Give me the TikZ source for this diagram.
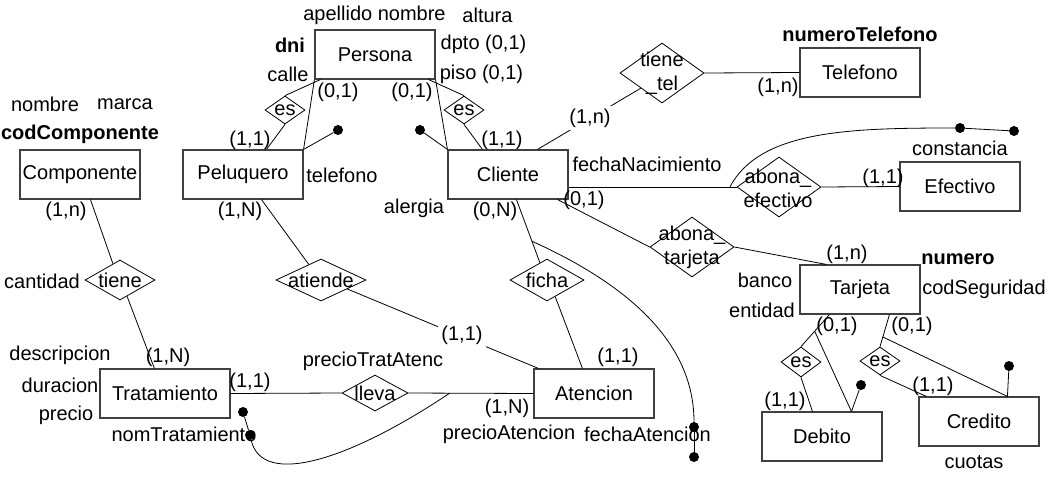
\documentclass[tikz,border=0pt]{standalone}
\usepackage{fontspec}
\setmainfont{Liberation Sans}
\usetikzlibrary{shapes.geometric,calc}
\begin{document}
\begin{tikzpicture}[x=1pt,y=-1pt,
  font=\fontsize{20}{24}\selectfont,
  ent/.style={draw=black!75,fill=white,line width=1.1pt,minimum width=120pt,minimum height=49pt,inner sep=0pt},
  rel/.style={draw,fill=white,diamond,line width=0.8pt,inner sep=0pt},
  conn/.style={line width=0.8pt},
  txt/.style={inner sep=0pt},
  cardw/.style={fill=white,inner sep=3pt},
  dotn/.style={circle,fill,inner sep=0pt,minimum size=10pt},
  dlab/.style={align=center,inner sep=0pt}]
\useasboundingbox (0,0) rectangle (1050,477);

% entities
\node[ent] (per) at (375,54.5) {Persona};
\node[ent] (tel) at (860,72.5) {Telefono};
\node[ent] (com) at (80,174.5) {Componente};
\node[ent] (pel) at (243,174.5) {Peluquero};
\node[ent] (cli) at (508,174.5) {Cliente};
\node[ent] (efe) at (960,186.5) {Efectivo};
\node[ent] (tar) at (860,289.5) {Tarjeta};
\node[ent,minimum width=130pt] (tra) at (165,393.5) {Tratamiento};
\node[ent] (ate) at (594,393.5) {Atencion};
\node[ent] (deb) at (822,436.5) {Debito};
\node[ent] (cre) at (979,421.5) {Credito};

% relationships
\node[rel,minimum width=84pt,minimum height=60pt] (tt) at (662,73) {};
\node[rel,minimum width=84pt,minimum height=60pt] (abe) at (779,187) {};
\node[rel,minimum width=84pt,minimum height=60pt] (abt) at (692,247) {};
\node[rel,minimum width=70pt,minimum height=40pt] (tie) at (120,280) {};
\node[rel,minimum width=90pt,minimum height=42pt] (atd) at (321,280) {};
\node[rel,minimum width=74pt,minimum height=42pt] (fic) at (547,280) {};
\node[rel,minimum width=66pt,minimum height=36pt] (lle) at (375,393) {};
\node[rel,minimum width=40pt,minimum height=28pt] (es1) at (285,110) {};
\node[rel,minimum width=40pt,minimum height=28pt] (es2) at (464,110) {};
\node[rel,minimum width=40pt,minimum height=30pt] (es3) at (801,362) {};
\node[rel,minimum width=40pt,minimum height=28pt] (es4) at (880,361) {};

% attributes
\node[txt] (a1) at (374.5,15) {apellido nombre};
\node[txt] (a2) at (487.5,15) {altura};
\node[txt,font=\fontsize{20}{24}\selectfont\bfseries] (a3) at (290,45) {dni};
\node[txt] (a4) at (288,74) {calle};
\node[txt] (a5) at (483.5,44) {dpto (0,1)};
\node[txt] (a6) at (481.5,74) {piso (0,1)};
\node[txt] (a7) at (342,175) {telefono};
\node[txt] (a8) at (414,208) {alergia};
\node[txt] (a9) at (45,104) {nombre};
\node[txt] (a10) at (125,104) {marca};
\node[txt,font=\fontsize{20}{24}\selectfont\bfseries] (a11) at (80,134) {codComponente};
\node[txt,font=\fontsize{20}{24}\selectfont\bfseries] (a12) at (860,34) {numeroTelefono};
\node[txt] (a13) at (647,164) {fechaNacimiento};
\node[txt] (a14) at (960,148) {constancia};
\node[txt,font=\fontsize{20}{24}\selectfont\bfseries] (a15) at (958,259) {numero};
\node[txt] (a16) at (984,289) {codSeguridad};
\node[txt] (a17) at (765,280) {banco};
\node[txt] (a18) at (762,310) {entidad};
\node[txt] (a19) at (974,462) {cuotas};
\node[txt] (a20) at (42,281) {cantidad};
\node[txt] (a21) at (60,355) {descripcion};
\node[txt] (a22) at (60,385) {duracion};
\node[txt] (a23) at (66,415) {precio};
\node[txt] (a24) at (184,434) {nomTratamiento};
\node[txt] (a25) at (373,361) {precioTratAtenc};
\node[txt] (a26) at (509,434) {precioAtencion};
\node[txt] (a27) at (647.5,434) {fechaAtencion};

% cardinalities (plain)
\node[txt] (c1) at (338,92) {(0,1)};
\node[txt] (c2) at (412,92) {(0,1)};
\node[txt] (c3) at (250,140) {(1,1)};
\node[txt] (c4) at (502,140) {(1,1)};
\node[txt] (c5) at (495,211) {(0,N)};
\node[txt] (c6) at (240,211) {(1,N)};
\node[txt] (c7) at (66,211) {(1,n)};
\node[txt] (c8) at (778,87) {(1,n)};
\node[txt] (c9) at (584,200) {(0,1)};
\node[txt] (c10) at (883,178) {(1,1)};
\node[txt] (c11) at (847,254) {(1,n)};
\node[txt] (c12) at (837,326) {(0,1)};
\node[txt] (c13) at (912,326) {(0,1)};
\node[txt] (c14) at (785,401) {(1,1)};
\node[txt] (c15) at (933,386) {(1,1)};
\node[txt] (c16) at (168,357) {(1,N)};
\node[txt] (c17) at (250,382) {(1,1)};
\node[txt] (c18) at (618,357) {(1,1)};
\node[txt] (c19) at (507,408) {(1,N)};

% dots
\node[dotn] (dpel) at (338,130) {};
\node[dotn] (dcli) at (420,130) {};
\node[dotn] (defa) at (960,128) {};
\node[dotn] (defb) at (1014,131) {};
\node[dotn] (ddeb) at (861,385) {};
\node[dotn] (dcre) at (1009,366) {};
\node[dotn] (dfa) at (694,427) {};
\node[dotn] (dfb) at (694,457) {};
\node[dotn] (dta) at (250,435) {};
\node[dotn] (dtb) at (243,412) {};

% connectors
\draw[conn] ($(per.south west)+(6,0)$) -- (es1.north);
\draw[conn] (es1.south) -- ($(pel.north west)+(84,0)$);
\draw[conn] (per.south west) -- (pel.north east);
\draw[conn] (pel.north east) -- (dpel);
\draw[conn] ($(per.south east)+(-7,0)$) -- (es2.north);
\draw[conn] (es2.south) -- ($(cli.north west)+(35,0)$);
\draw[conn] (per.south east) -- (cli.north west);
\draw[conn] (cli.north west) -- (dcli);
\draw[conn] ($(cli.north west)+(90,0)$) -- ($(tt.west)!0.5!(tt.south)$);
\draw[conn] (tt.east) -- (tel.west);
\draw[conn] (cli.east |- abe.west) -- coordinate[pos=0.96] (ce) (abe.west);
\draw[conn] (abe.east) -- (efe.west);
\draw[conn] (ce) .. controls (760,130) and (850,128) .. (defa);
\draw[conn] (defa) -- (defb);
\draw[conn] ($(cli.south east)+(-11,0)$) -- (abt.west);
\draw[conn] (abt.east) -- ($(tar.north west)+(27,0)$);
\draw[conn] ($(tar.south west)+(30,0)$) -- coordinate[pos=0.52] (bd) (es3.north);
\draw[conn] (bd) -- ($(deb.north west)+(90,0)$);
\draw[conn] (es3.south) -- ($(deb.north west)+(51,0)$);
\draw[conn] ($(deb.north west)+(90,0)$) -- (ddeb);
\draw[conn] ($(tar.south west)+(90,0)$) -- coordinate[pos=0.7] (bc) (es4.north);
\draw[conn] (bc) -- ($(cre.north west)+(89,0)$);
\draw[conn] (es4.south) -- ($(cre.north west)+(8,0)$);
\draw[conn] ($(cre.north west)+(89,0)$) -- (dcre);
\draw[conn] ($(com.south west)+(71,0)$) -- ($(tie.north)!0.2!(tie.west)$);
\draw[conn] ($(tie.south)!0.2!(tie.east)$) -- ($(tra.north west)+(55,0)$);
\draw[conn] ($(pel.south west)+(79,0)$) -- ($(atd.north)!0.27!(atd.west)$);
\draw[conn] ($(atd.east)!0.42!(atd.south)$) -- ($(ate.north west)+(5,0)$);
\draw[conn] ($(cli.south west)+(69,0)$) -- coordinate[pos=0.66] (cf) ($(fic.north)!0.19!(fic.west)$);
\draw[conn] ($(fic.south)!0.22!(fic.east)$) -- ($(ate.north west)+(49,0)$);
\draw[conn] (cf) .. controls (640,290) and (694,350) .. (dfa);
\draw[conn] (dfa) -- (dfb);
\draw[conn] (tra.east) -- (lle.west);
\draw[conn] (lle.east) -- coordinate[pos=0.33] (cl) (ate.west);
\draw[conn] (cl) .. controls (350,460) and (262,488) .. (dta);
\draw[conn] (dta) -- (dtb);

% cardinalities hiding lines
\node[cardw] (c20) at (590,118) {(1,n)};
\node[cardw] (c21) at (462,335) {(1,1)};

% relationship labels
\node[dlab] (l1) at (tt) {tiene\\\_tel};
\node[dlab] (l2) at (778,188.5) {abona\_\\efectivo};
\node[dlab] (l3) at (692,247) {abona\_\\tarjeta};
\node[dlab] (l4) at (tie) {tiene};
\node[dlab] (l5) at (atd) {atiende};
\node[dlab] (l6) at (fic) {ficha};
\node[dlab] (l7) at (lle) {lleva};
\node[dlab] (l8) at (es1) {es};
\node[dlab] (l9) at (es2) {es};
\node[dlab] (l10) at (es3) {es};
\node[dlab] (l11) at (es4) {es};
\end{tikzpicture}
\end{document}
